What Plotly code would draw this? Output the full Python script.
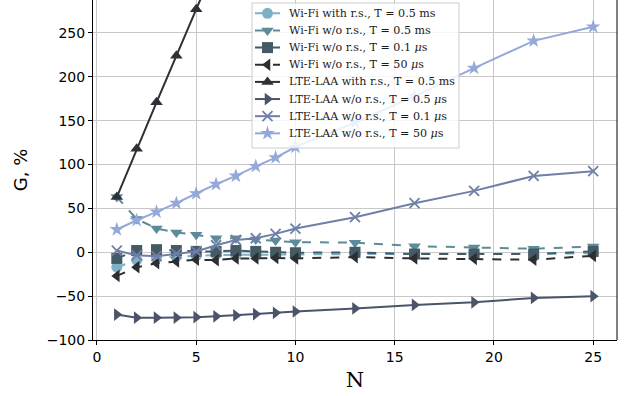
import plotly.graph_objects as go

N = [1, 2, 3, 4, 5, 6, 7, 8, 9, 10, 13, 16, 19, 22, 25]
N_lte_rs = [1, 2, 3, 4, 5, 6, 7]

wifi_rs_05ms = [-17, -9, -6, -5, -4, -3, -3, -3, -3, -2.5, -2, -2, -2, -2, -1]
wifi_nors_05ms = [63, 38, 27, 22.5, 20, 16, 16, 14.5, 13.5, 11.5, 11, 7, 5.5, 4, 6.5]
wifi_nors_01us = [-7, 2, 3, 2, 1, 1, 2, 1, 0, -0.5, 0, -2, -2, -2, 1]
wifi_nors_50us = [-27, -17, -12.5, -10.5, -8.5, -9, -7, -7, -6.5, -7, -5.5, -7, -7.5, -8.5, -4]
lte_rs_05ms = [63, 118, 171, 224, 277, 330, 383]
lte_nors_05us = [-71, -74.5, -74.5, -74.5, -74, -73, -72, -70.5, -69, -67.5, -64, -60, -57, -52, -50]
lte_nors_01us = [2, -3.5, -4.5, -1.5, 1, 8, 14, 16, 21, 27, 40, 56, 70, 87, 92.5]
lte_nors_50us = [26, 36.5, 46, 56, 67, 77.6, 87, 98, 108, 120, 148, 178, 210, 241, 257]

names = [
    "Wi-Fi with r.s., T = 0.5 ms",
    "Wi-Fi w/o r.s., T = 0.5 ms",
    "Wi-Fi w/o r.s., T = 0.1 <i>μ</i>s",
    "Wi-Fi w/o r.s., T = 50 <i>μ</i>s",
    "LTE-LAA with r.s., T = 0.5 ms",
    "LTE-LAA w/o r.s., T = 0.5 <i>μ</i>s",
    "LTE-LAA w/o r.s., T = 0.1 <i>μ</i>s",
    "LTE-LAA w/o r.s., T = 50 <i>μ</i>s",
]
xs = [N, N, N, N, N_lte_rs, N, N, N]
ys = [wifi_rs_05ms, wifi_nors_05ms, wifi_nors_01us, wifi_nors_50us,
      lte_rs_05ms, lte_nors_05us, lte_nors_01us, lte_nors_50us]
colors = ["#7fb1c5", "#5c8b99", "#445b66", "#2b2f33",
          "#2e3035", "#4b5569", "#6f7fa8", "#94a9da"]
symbols = ["circle", "triangle-down", "square", "triangle-left",
           "triangle-up", "triangle-right", "x-thin", "star"]
dashes = ["dash", "dash", "dash", "dash", "solid", "solid", "solid", "solid"]


def mk(s, c):
    if s == "x-thin":
        return dict(symbol=s, size=10, color=c, line=dict(width=1.8, color=c))
    return dict(symbol=s, size=11, color=c)


fig = go.Figure()
for name, x, y, c, s, d in zip(names, xs, ys, colors, symbols, dashes):
    fig.add_trace(go.Scatter(
        x=x, y=y, name=name, mode="lines+markers", showlegend=False,
        line=dict(color=c, width=2, dash=d), marker=mk(s, c),
    ))

# Hand-drawn legend on an overlay axis measured in pixels of the plot area
L_LEFT, L_RIGHT, L_TOP, L_BOT = 252, 459, 3, 148
ROW0, ROW_STEP = 13.3, 17.15
fig.add_trace(go.Scatter(
    x=[L_LEFT, L_RIGHT, L_RIGHT, L_LEFT, L_LEFT],
    y=[L_TOP, L_TOP, L_BOT, L_BOT, L_TOP],
    xaxis="x2", yaxis="y2", mode="lines", fill="toself",
    fillcolor="rgba(255,255,255,0.82)", line=dict(color="#cccccc", width=1),
    showlegend=False, hoverinfo="skip",
))
annotations = []
for i, (name, c, s, d) in enumerate(zip(names, colors, symbols, dashes)):
    yy = ROW0 + i * ROW_STEP
    fig.add_trace(go.Scatter(
        x=[255, 280], y=[yy, yy], xaxis="x2", yaxis="y2", mode="lines",
        line=dict(color=c, width=2, dash=d), showlegend=False, hoverinfo="skip",
    ))
    fig.add_trace(go.Scatter(
        x=[267.5], y=[yy], xaxis="x2", yaxis="y2", mode="markers",
        marker=mk(s, c), showlegend=False, hoverinfo="skip",
    ))
    annotations.append(dict(
        x=287, y=yy, xref="x2", yref="y2", text=name, showarrow=False,
        xanchor="left", yanchor="middle",
        font=dict(family="DejaVu Serif", size=11.1, color="#1a1a1a"),
    ))

fig.update_layout(
    width=625, height=396,
    margin=dict(l=93, r=8, t=0, b=56),
    plot_bgcolor="white", paper_bgcolor="white",
    font=dict(family="DejaVu Sans", size=14, color="black"),
    showlegend=False,
    annotations=annotations,
    xaxis=dict(
        range=[-0.2, 26.2], tickvals=[0, 5, 10, 15, 20, 25],
        showgrid=True, gridcolor="#c8c8c8", gridwidth=1,
        showline=True, linecolor="black", linewidth=1,
        ticks="outside", ticklen=4, tickcolor="black",
        zeroline=False,
        title=dict(text="N", font=dict(family="DejaVu Serif", size=21), standoff=8),
        tickfont=dict(size=14),
    ),
    yaxis=dict(
        range=[-100, 287.6], tickvals=[-100, -50, 0, 50, 100, 150, 200, 250],
        ticktext=["\u2212100", "\u221250", "0", "50", "100", "150", "200", "250"],
        showgrid=True, gridcolor="#c8c8c8", gridwidth=1,
        showline=True, linecolor="black", linewidth=1,
        ticks="outside", ticklen=4, tickcolor="black",
        zeroline=False,
        title=dict(text="G, %", font=dict(family="DejaVu Sans", size=18), standoff=14),
        tickfont=dict(size=14),
    ),
    xaxis2=dict(overlaying="x", range=[93, 617], visible=False, fixedrange=True),
    yaxis2=dict(overlaying="y", range=[340, 0], visible=False, fixedrange=True),
    shapes=[dict(type="line", xref="paper", yref="paper", x0=1, x1=1, y0=0, y1=1,
                 line=dict(color="black", width=1))],
)

fig.write_html("out.html")
